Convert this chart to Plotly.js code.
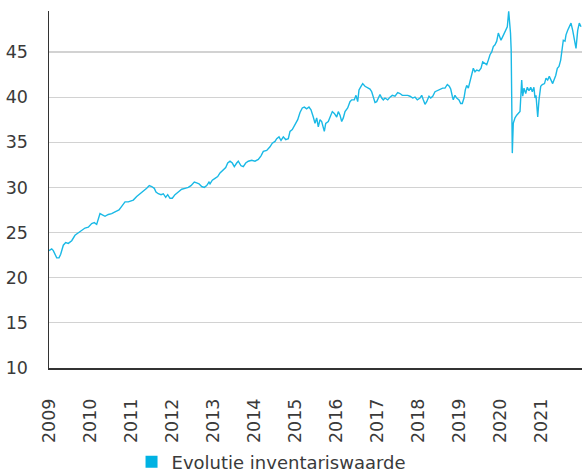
<!DOCTYPE html>
<html>
<head>
<meta charset="utf-8">
<script src="https://cdn.plot.ly/plotly-3.0.1.min.js"></script>
<style>
html,body{margin:0;padding:0;background:#fff;}
#chart{width:582px;height:472px;}
</style>
</head>
<body>
<div id="chart"></div>
<script>
// Time as decimal years
var years = [
2009.000,2009.066,2009.105,2009.146,2009.188,2009.244,2009.285,2009.349,2009.407,2009.471,
2009.554,2009.634,2009.715,2009.798,2009.878,2009.959,2010.041,2010.105,2010.163,2010.244,
2010.300,2010.366,2010.446,2010.529,2010.610,2010.707,2010.773,2010.854,2010.934,2011.056,
2011.139,2011.220,2011.300,2011.383,2011.446,2011.505,2011.568,2011.610,2011.666,
2011.732,2011.788,2011.846,2011.895,2011.951,2012.007,2012.073,2012.154,2012.237,2012.317,
2012.398,2012.463,2012.544,2012.602,2012.659,2012.724,2012.788,2012.846,2012.902,2012.927,
2012.983,2013.049,2013.115,2013.171,2013.251,2013.310,2013.359,2013.415,2013.471,2013.520,
2013.578,2013.617,2013.683,2013.739,2013.798,2013.861,2013.944,2014.024,2014.105,2014.171,
2014.227,2014.310,2014.390,2014.446,2014.512,2014.554,2014.610,2014.659,2014.715,2014.773,
2014.837,
2014.878,2014.934,2015.000,2015.066,2015.122,2015.178,2015.227,2015.285,2015.341,2015.390,
2015.446,2015.488,2015.529,2015.568,2015.610,2015.651,2015.715,2015.749,2015.812,2015.871,
2015.910,2015.959,2016.017,2016.056,2016.098,2016.139,2016.178,2016.220,2016.285,2016.341,
2016.383,2016.446,2016.488,2016.529,2016.561,2016.610,2016.651,2016.707,2016.773,2016.829,
2016.871,2016.910,2016.951,2016.993,2017.032,2017.073,2017.115,2017.154,2017.195,2017.261,
2017.317,2017.373,2017.439,2017.505,2017.561,2017.617,2017.683,2017.749,
2017.805,2017.871,2017.927,2017.983,2018.049,2018.090,2018.129,2018.171,2018.212,2018.268,
2018.310,2018.359,2018.415,2018.471,2018.537,2018.602,2018.659,2018.715,2018.763,2018.798,
2018.837,2018.861,2018.902,2018.944,2019.000,2019.041,2019.080,2019.122,2019.154,2019.188,
2019.227,2019.268,2019.310,2019.349,2019.390,2019.432,2019.488,2019.537,2019.578,2019.617,
2019.676,2019.715,2019.756,2019.798,2019.837,2019.878,2019.920,2019.959,2019.983,2020.024,
2020.066,2020.105,2020.146,2020.178,2020.212,2020.237,2020.256,2020.273,2020.288,2020.300,
2020.324,2020.366,2020.407,2020.446,2020.488,2020.529,2020.554,2020.585,2020.627,2020.666,
2020.707,2020.749,2020.788,2020.827,2020.854,2020.878,2020.920,2020.951,2020.993,2021.032,
2021.085,2021.122,2021.163,2021.202,2021.244,2021.285,2021.317,2021.359,2021.398,2021.439,
2021.480,2021.505,2021.544,2021.585,2021.610,2021.651,2021.690,2021.732,2021.773,2021.812,
2021.854,2021.895,2021.934,2021.976
];
// Net asset value ("inventariswaarde")
var nav = [
23.0,23.2,23.0,22.5,22.2,22.2,22.6,23.6,23.9,23.8,
24.1,24.7,25.0,25.3,25.5,25.6,26.0,26.1,25.9,27.1,
27.0,26.8,27.0,27.1,27.3,27.5,27.9,28.4,28.4,28.6,
29.0,29.3,29.5,29.9,30.2,30.1,29.9,29.5,29.3,
29.2,29.3,28.9,29.2,28.8,28.8,29.2,29.5,29.8,29.9,
30.0,30.2,30.6,30.5,30.4,30.1,30.0,30.2,30.6,30.4,
30.8,31.0,31.2,31.6,31.9,32.2,32.7,32.9,32.7,32.3,
32.7,32.9,32.4,32.3,32.7,32.9,33.0,32.9,33.1,33.5,
34.0,34.1,34.5,34.9,35.1,35.4,35.6,35.2,35.6,35.3,
35.4,
36.2,36.4,36.9,37.5,38.3,38.8,38.9,38.7,38.9,38.6,
37.8,37.1,37.7,36.7,37.5,37.3,36.2,37.1,37.3,38.0,
38.4,38.2,37.8,38.4,38.0,37.3,37.7,38.4,38.8,39.5,
39.7,39.7,40.2,39.5,40.8,41.2,41.5,41.2,41.0,40.9,
40.6,40.1,39.4,39.5,39.9,40.3,39.9,39.7,39.9,39.7,
40.0,40.2,40.1,40.5,40.4,40.2,40.2,40.2,
40.1,39.9,40.0,39.7,39.9,40.2,39.7,39.2,39.5,40.1,
39.9,40.1,40.6,40.7,40.9,41.0,41.0,41.4,41.2,40.9,
40.1,39.7,40.2,39.9,39.7,39.3,39.3,39.9,40.8,41.3,
41.0,41.7,42.4,43.2,42.8,43.0,42.9,43.2,43.9,43.8,
43.6,44.1,44.7,45.0,45.6,45.8,46.2,47.1,46.7,46.3,
46.7,47.1,47.4,47.8,49.5,48.5,47.1,45.2,40.0,33.8,
37.1,37.7,38.0,38.2,38.4,41.9,40.1,41.0,40.4,41.1,
40.7,41.1,40.6,41.1,39.9,40.2,37.8,39.7,41.2,41.4,
41.5,42.1,41.9,42.3,41.9,41.5,41.9,42.4,43.2,43.4,
44.1,45.2,46.3,46.2,46.9,47.4,47.8,48.2,47.4,46.5,
45.4,47.4,48.2,47.8
];
var tickYears = [2009,2010,2011,2012,2013,2014,2015,2016,2017,2018,2019,2020,2021];
var tickLabels = ["2009","2010","2011","2012","2013","2014","2015","2016","2017","2018","2019","2020","2021"];
var yTicks = [10,15,20,25,30,35,40,45];
var seriesName = "Evolutie inventariswaarde";

var FONT = "'DejaVu Sans', sans-serif";
var TXT = {family: FONT, size: 17.5, color: "#3a3a3a"};
var LEG = {family: FONT, size: 18, color: "#3a3a3a"};
var traces = [
  {
    type: "scatter", mode: "lines", x: years, y: nav, name: seriesName,
    line: {color: "#1ab9e6", width: 1.4}, showlegend: false, hoverinfo: "x+y"
  },
  {
    type: "bar", x: [null], y: [null], name: seriesName,
    marker: {color: "#00b2e3", line: {width: 0}}, showlegend: true
  }
];
var layout = {
  width: 582, height: 472,
  margin: {l: 49, r: 0, t: 11, b: 104, pad: 0},
  paper_bgcolor: "#fff", plot_bgcolor: "#fff",
  font: TXT,
  showlegend: true,
  legend: {
    orientation: "h", xref: "container", x: 0.226, xanchor: "left",
    yref: "container", y: 0.021, yanchor: "middle",
    font: LEG, bgcolor: "rgba(0,0,0,0)"
  },
  xaxis: {
    range: [2009, 2022], tickmode: "array", tickvals: tickYears, ticktext: tickLabels,
    tickangle: -90, ticks: "", showgrid: false, zeroline: false,
    showline: true, linecolor: "#333", linewidth: 1.5, automargin: false,
    ticklabelstandoff: 22, tickfont: TXT,
    fixedrange: true
  },
  yaxis: {
    range: [10, 49.54], tickmode: "array", tickvals: yTicks,
    ticks: "", showgrid: true, gridcolor: "#d2d2d2", gridwidth: 1.2, zeroline: false,
    showline: true, linecolor: "#333", linewidth: 1.5, automargin: false,
    ticklabelstandoff: 16, tickfont: TXT,
    fixedrange: true
  }
};
Plotly.newPlot("chart", traces, layout, {displayModeBar: false, staticPlot: true});
</script>
</body>
</html>
